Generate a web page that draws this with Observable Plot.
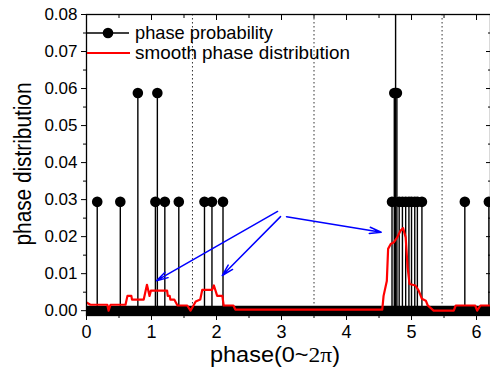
<!DOCTYPE html>
<html><head><meta charset="utf-8">
<script src="https://cdn.jsdelivr.net/npm/d3@7"></script>
<script src="https://cdn.jsdelivr.net/npm/@observablehq/plot@0.6"></script>
<style>
body{margin:0;background:#fff;}
#wrap{position:relative;width:490px;height:368px;overflow:hidden;font-family:"Liberation Sans",Arial,sans-serif;}
#wrap svg{display:block;}
#over{position:absolute;left:0;top:0;pointer-events:none;}
</style></head><body><div id="wrap"></div>
<script>
// phase probability (stem markers)
const probPhase = [0.165, 0.52, 0.79, 1.06, 1.09, 1.205, 1.42, 1.815, 1.93, 2.10,
                   4.70, 4.735, 4.755, 4.775, 4.81, 4.86, 4.91, 4.96, 5.00, 5.05, 5.09, 5.16, 5.82, 6.19];
const probValue = [0.0294, 0.0294, 0.0588, 0.0294, 0.0588, 0.0294, 0.0294, 0.0294, 0.0294, 0.0294,
                   0.0294, 0.0588, 0.088, 0.0588, 0.0294, 0.0294, 0.0294, 0.0294, 0.0294, 0.0294, 0.0294, 0.0294, 0.0294, 0.0294];
// smooth phase distribution
const smoothPhase = [0, 0.06, 0.32, 0.34, 0.37, 0.60, 0.63, 0.69, 0.70, 0.88, 0.93, 0.97, 0.99, 1.24, 1.25, 1.28, 1.29, 1.35, 1.40, 1.55, 1.60, 1.68, 1.75, 1.78, 1.93, 1.96, 2.01, 2.09, 2.11, 2.26, 2.29,
                     4.55, 4.57, 4.62, 4.64, 4.68, 4.73, 4.78, 4.83, 4.87, 4.91, 4.94, 4.97, 5.06, 5.11, 5.16, 5.22, 5.25, 5.34, 5.65, 5.68, 5.98, 6.01, 6.06, 6.22];
const smoothValue = [0.0022, 0.0016, 0.0016, 0.0, 0.0016, 0.0016, 0.0040, 0.0040, 0.0030, 0.0030, 0.0070, 0.0040, 0.0054, 0.0054, 0.0040, 0.0040, 0.0030, 0.0030, 0.0014, 0.0014, 0.0, 0.0025, 0.0030, 0.0056, 0.0056, 0.0068, 0.0040, 0.0040, 0.0014, 0.0014, 0.0003,
                     0.0003, 0.0040, 0.0080, 0.0167, 0.0180, 0.0185, 0.0198, 0.0216, 0.0223, 0.0198, 0.0117, 0.0072, 0.0068, 0.0054, 0.0032, 0.0027, 0.0014, 0.0, 0.0, 0.0014, 0.0014, 0.0, 0.0014, 0.0014];
// dotted dividers
const dividerPhase = [1.63, 3.50, 5.47];
// annotation arrows
const arrowFromPhase = [2.94, 2.985, 3.077];
const arrowFromValue = [0.0268, 0.0254, 0.0254];
const arrowToPhase = [1.077, 2.088, 4.534];
const arrowToValue = [0.0081, 0.0095, 0.0212];
// ticks
const xTicks = [0, 1, 2, 3, 4, 5, 6];
const xMinor = [0.5, 1.5, 2.5, 3.5, 4.5, 5.5];
const yTicks = [0, 0.01, 0.02, 0.03, 0.04, 0.05, 0.06, 0.07, 0.08];
const yMinor = [0.005, 0.015, 0.025, 0.035, 0.045, 0.055, 0.065, 0.075];

const prob = probPhase.map((p, i) => ({phase: p, value: probValue[i]}));
const smooth = smoothPhase.map((p, i) => ({phase: p, value: smoothValue[i]}));
const arrows = arrowFromPhase.map((p, i) => ({x1: p, y1: arrowFromValue[i], x2: arrowToPhase[i], y2: arrowToValue[i]}));
const zeroLine = [{phase: 0, value: 0}, {phase: 6.3, value: 0}];

const fmt = d3.format(".2f");
const blank = () => "";
const chart = Plot.plot({
  width: 490, height: 368,
  marginLeft: 86, marginRight: 0, marginTop: 14, marginBottom: 53,
  x: {domain: [0, 6.215], axis: null},
  y: {domain: [-0.0013, 0.08], axis: null},
  style: {fontFamily: "Liberation Sans, Arial, sans-serif", fontSize: "17px", color: "#000", background: "#fff"},
  marks: [
    Plot.ruleX(dividerPhase, {stroke: "#333", strokeWidth: 1, strokeDasharray: "1.5,2.5"}),
    Plot.line(zeroLine, {x: "phase", y: "value", stroke: "#000", strokeWidth: 10, clip: true}),
    Plot.ruleX(prob, {x: "phase", y1: 0, y2: "value", stroke: "#000", strokeWidth: 1.4, clip: true}),
    Plot.dot(prob, {x: "phase", y: "value", r: 5.3, fill: "#000", stroke: "none", clip: true}),
    Plot.line(smooth, {x: "phase", y: "value", stroke: "#ff0000", strokeWidth: 2.2, clip: true}),
    Plot.arrow(arrows, {x1: "x1", y1: "y1", x2: "x2", y2: "y2", stroke: "#0000ff", strokeWidth: 1.5, headLength: 12, headAngle: 30}),
    Plot.frame({stroke: "#000", strokeWidth: 1.3}),
    Plot.axisX(xTicks, {anchor: "bottom", tickSize: 5, tickPadding: 5, tickFormat: d => String(d), label: null, fontSize: 18}),
    Plot.axisX(xMinor, {anchor: "bottom", tickSize: 3, tickFormat: blank, label: null}),
    Plot.axisX(xTicks, {anchor: "top", tickSize: -5, tickFormat: blank, label: null}),
    Plot.axisX(xMinor, {anchor: "top", tickSize: -3, tickFormat: blank, label: null}),
    Plot.axisY(yTicks, {anchor: "left", tickSize: 5, tickPadding: 4, tickFormat: fmt, label: null, fontSize: 17}),
    Plot.axisY(yMinor, {anchor: "left", tickSize: 3, tickFormat: blank, label: null}),
    Plot.axisY(yTicks, {anchor: "right", tickSize: -5, tickFormat: blank, label: null}),
    Plot.axisY(yMinor, {anchor: "right", tickSize: -3, tickFormat: blank, label: null})
  ]
});
const wrap = document.getElementById("wrap");
wrap.appendChild(chart);

// overlay: legend and axis titles
const ns = "http://www.w3.org/2000/svg";
const over = document.createElementNS(ns, "svg");
over.setAttribute("id", "over");
over.setAttribute("width", 490);
over.setAttribute("height", 368);
over.innerHTML = `
  <g font-family="Liberation Sans, Arial, sans-serif" fill="#000">
    <line x1="87" y1="33" x2="129" y2="33" stroke="#000" stroke-width="1.3"/>
    <circle cx="108" cy="33" r="5.3" fill="#000"/>
    <text x="135" y="39" font-size="19" textLength="138" lengthAdjust="spacingAndGlyphs">phase probability</text>
    <line x1="87" y1="53" x2="130" y2="53" stroke="#ff0000" stroke-width="2.2"/>
    <text x="135" y="59" font-size="19" textLength="215" lengthAdjust="spacingAndGlyphs">smooth phase distribution</text>
    <text x="210" y="362" font-size="22" textLength="130" lengthAdjust="spacingAndGlyphs">phase(0~<tspan font-family="Liberation Serif, Times New Roman, serif">2π</tspan>)</text>
    <text transform="translate(31,164) rotate(-90)" font-size="23" text-anchor="middle" textLength="163" lengthAdjust="spacingAndGlyphs">phase distribution</text>
  </g>`;
wrap.appendChild(over);
</script>
</body></html>
